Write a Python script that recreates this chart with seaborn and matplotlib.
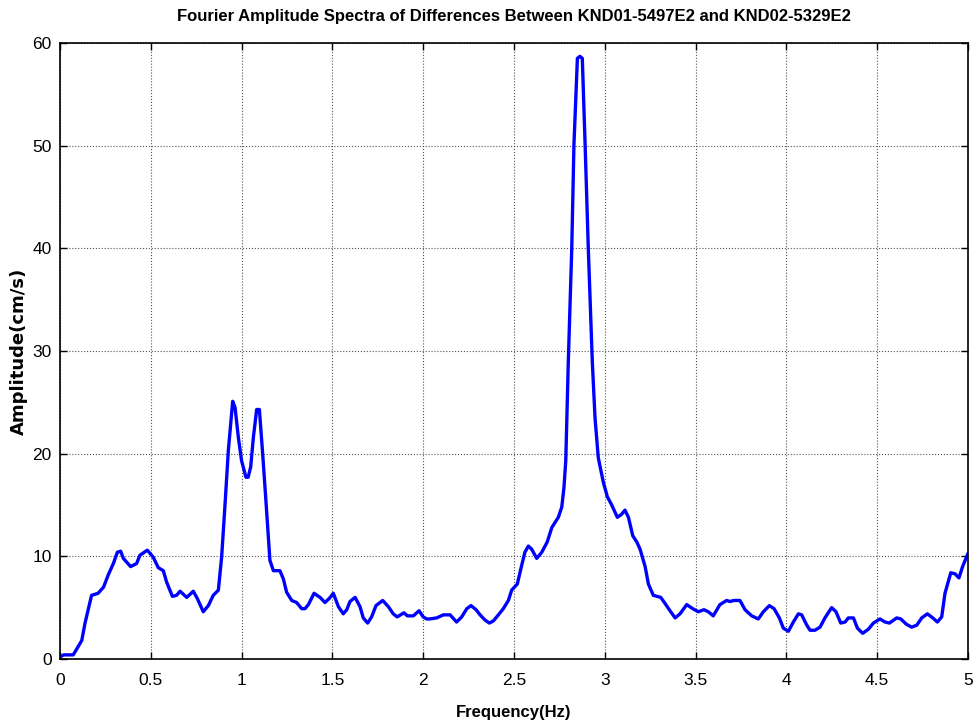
import matplotlib
matplotlib.use("Agg")
import matplotlib.pyplot as plt
import seaborn as sns
import pandas as pd

freq = [0.0, 0.02, 0.073, 0.12, 0.138, 0.174, 0.21, 0.24, 0.266, 0.294, 0.316, 0.334, 0.349,
        0.389, 0.422, 0.44, 0.481, 0.514, 0.541, 0.569, 0.587, 0.619, 0.642, 0.661, 0.698,
        0.734, 0.756, 0.789, 0.817, 0.844, 0.872, 0.89, 0.909, 0.927, 0.951, 0.964, 0.982,
        1.0, 1.024, 1.036, 1.05, 1.065, 1.083, 1.098, 1.116, 1.134, 1.156, 1.175, 1.197,
        1.211, 1.23, 1.248, 1.276, 1.303, 1.331, 1.349, 1.368, 1.399, 1.432, 1.459, 1.483,
        1.505, 1.533, 1.56, 1.579, 1.597, 1.625, 1.652, 1.67, 1.694, 1.716, 1.74, 1.777,
        1.808, 1.835, 1.857, 1.894, 1.913, 1.946, 1.977, 2.0, 2.019, 2.036, 2.074, 2.111,
        2.148, 2.184, 2.212, 2.24, 2.263, 2.291, 2.313, 2.34, 2.364, 2.386, 2.414, 2.441,
        2.469, 2.487, 2.518, 2.542, 2.56, 2.579, 2.597, 2.625, 2.653, 2.683, 2.708, 2.744,
        2.763, 2.775, 2.785, 2.799, 2.818, 2.83, 2.849, 2.863, 2.876, 2.891, 2.909, 2.931,
        2.946, 2.964, 2.992, 3.014, 3.038, 3.069, 3.093, 3.111, 3.13, 3.154, 3.176, 3.194,
        3.222, 3.24, 3.267, 3.308, 3.332, 3.355, 3.387, 3.414, 3.451, 3.484, 3.515, 3.546,
        3.57, 3.597, 3.634, 3.671, 3.689, 3.711, 3.744, 3.772, 3.809, 3.845, 3.873, 3.906,
        3.932, 3.961, 3.983, 4.011, 4.038, 4.066, 4.084, 4.112, 4.13, 4.157, 4.185, 4.212,
        4.249, 4.273, 4.299, 4.323, 4.341, 4.369, 4.391, 4.42, 4.451, 4.479, 4.515, 4.543,
        4.567, 4.607, 4.63, 4.659, 4.69, 4.718, 4.745, 4.776, 4.806, 4.831, 4.855, 4.873,
        4.905, 4.928, 4.95, 4.97, 5.0]

amplitude = [0.2, 0.4, 0.4, 1.8, 3.5, 6.2, 6.4, 7.0, 8.2, 9.3, 10.4, 10.5, 9.8,
             9.0, 9.3, 10.1, 10.6, 9.9, 8.9, 8.6, 7.5, 6.1, 6.2, 6.6, 6.0,
             6.6, 5.9, 4.6, 5.2, 6.2, 6.7, 9.9, 15.1, 20.3, 25.1, 24.5, 21.6,
             19.3, 17.7, 17.7, 18.7, 21.6, 24.3, 24.3, 20.0, 15.4, 9.6, 8.6, 8.6,
             8.6, 7.8, 6.5, 5.7, 5.5, 4.9, 4.9, 5.3, 6.4, 6.0, 5.5, 5.9,
             6.4, 5.1, 4.4, 4.8, 5.6, 6.0, 5.1, 4.0, 3.5, 4.1, 5.2, 5.7,
             5.1, 4.4, 4.1, 4.5, 4.2, 4.2, 4.7, 4.1, 3.9, 3.9, 4.0, 4.3,
             4.3, 3.6, 4.1, 4.9, 5.2, 4.8, 4.3, 3.8, 3.5, 3.7, 4.3, 4.9,
             5.7, 6.7, 7.3, 9.1, 10.4, 11.0, 10.7, 9.8, 10.4, 11.4, 12.8, 13.8,
             14.8, 16.7, 19.3, 29.0, 40.0, 50.1, 58.5, 58.7, 58.5, 50.4, 40.0, 29.0,
             23.5, 19.6, 17.2, 15.8, 15.0, 13.8, 14.1, 14.5, 13.8, 12.0, 11.4, 10.7,
             9.0, 7.3, 6.2, 6.0, 5.4, 4.8, 4.0, 4.4, 5.3, 4.9, 4.6, 4.8,
             4.6, 4.2, 5.3, 5.7, 5.6, 5.7, 5.7, 4.8, 4.2, 3.9, 4.6, 5.2,
             4.9, 4.0, 3.0, 2.7, 3.6, 4.4, 4.3, 3.3, 2.8, 2.8, 3.1, 4.0,
             5.0, 4.6, 3.5, 3.6, 4.0, 4.0, 3.0, 2.5, 2.9, 3.5, 3.9, 3.6,
             3.5, 4.0, 3.9, 3.4, 3.1, 3.3, 4.0, 4.4, 4.0, 3.6, 4.1, 6.4,
             8.4, 8.3, 7.9, 9.0, 10.3]

x_ticks = [0, 0.5, 1, 1.5, 2, 2.5, 3, 3.5, 4, 4.5, 5]
x_tick_labels = ["0", "0.5", "1", "1.5", "2", "2.5", "3", "3.5", "4", "4.5", "5"]
y_ticks = [0, 10, 20, 30, 40, 50, 60]
y_tick_labels = ["0", "10", "20", "30", "40", "50", "60"]

title = "Fourier Amplitude Spectra of Differences Between KND01-5497E2 and KND02-5329E2"
x_label = "Frequency(Hz)"
y_label = "Amplitude(cm/s)"

sns.set_theme(style="white")
plt.rcParams["font.family"] = ["Liberation Sans", "DejaVu Sans"]
plt.rcParams["text.color"] = "black"
plt.rcParams["axes.labelcolor"] = "black"

df = pd.DataFrame({"freq": freq, "amp": amplitude})

fig = plt.figure(figsize=(9.8, 7.26), dpi=100)
ax = fig.add_axes([0.0612, 0.0923, 0.9266, 0.8485])

sns.lineplot(data=df, x="freq", y="amp", ax=ax, color="#0000ff", linewidth=2.4,
             sort=False, estimator=None, solid_joinstyle="round", solid_capstyle="round")

ax.set_xlim(0, 5)
ax.set_ylim(0, 60)
ax.set_xticks(x_ticks)
ax.set_xticklabels(x_tick_labels)
ax.set_yticks(y_ticks)
ax.set_yticklabels(y_tick_labels)

ax.grid(True, color="#555555", linestyle=":", linewidth=0.8)
ax.set_axisbelow(True)

for sp in ax.spines.values():
    sp.set_visible(True)
    sp.set_color("black")
    sp.set_linewidth(1.2)

ax.tick_params(axis="both", which="both", direction="in", length=5, width=1,
               top=True, right=True, bottom=True, left=True,
               labelsize=12.5, colors="black")
ax.tick_params(axis="x", pad=10)
ax.tick_params(axis="y", pad=6)

ax.set_title(title, fontsize=12, fontweight="bold", pad=16, color="black")
ax.set_xlabel(x_label, fontsize=12, fontweight="bold", labelpad=12, color="black")
ax.set_ylabel(y_label, fontsize=13, fontweight="bold", labelpad=3, color="black",
              family=["DejaVu Sans"])

fig.savefig("out.png", dpi=100, facecolor="white")
